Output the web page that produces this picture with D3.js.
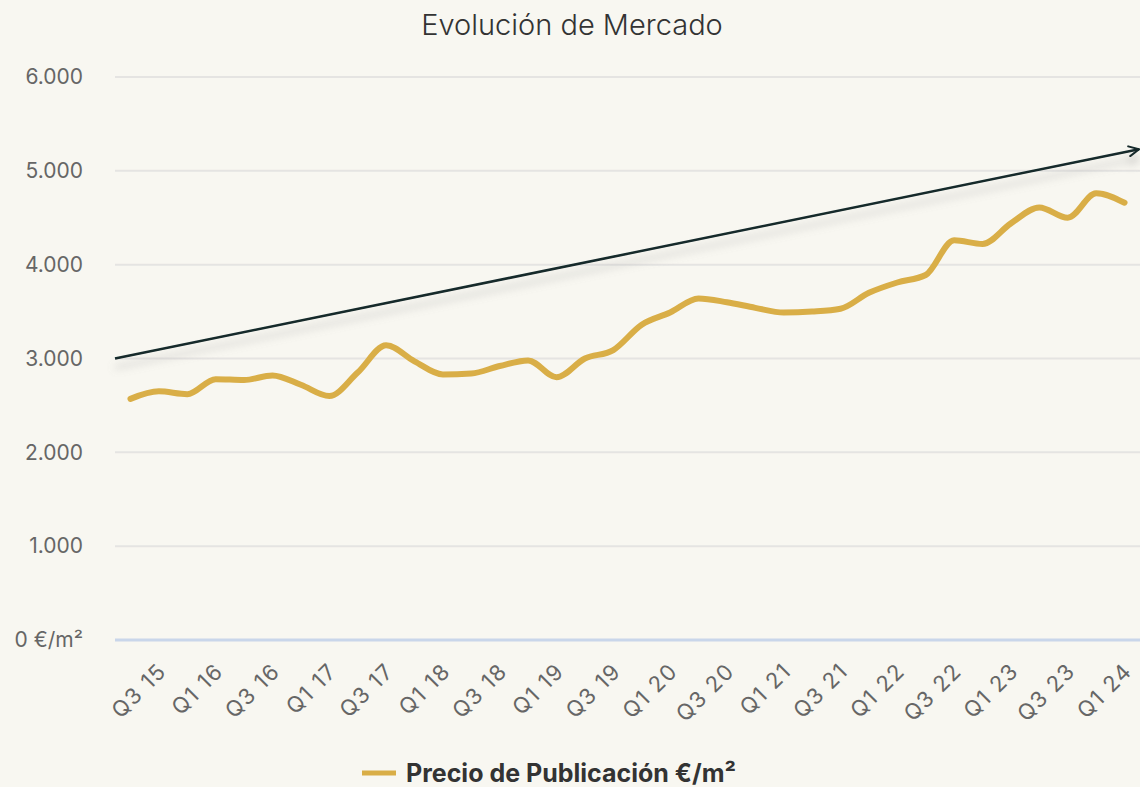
<!DOCTYPE html>
<html>
<head>
<meta charset="utf-8">
<script src="https://cdn.jsdelivr.net/npm/d3@7"></script>
<style>
  body { margin: 0; background: #f8f7f1; }
  svg { display: block; font-family: Inter, "Open Sans", sans-serif; }
</style>
</head>
<body>
<div id="chart"></div>
<script>
// quarters, Q2 15 .. Q1 24 (only every other one gets a label)
const quarters = [
  "Q2 15","Q3 15","Q4 15","Q1 16","Q2 16","Q3 16","Q4 16","Q1 17","Q2 17","Q3 17",
  "Q4 17","Q1 18","Q2 18","Q3 18","Q4 18","Q1 19","Q2 19","Q3 19","Q4 19","Q1 20",
  "Q2 20","Q3 20","Q4 20","Q1 21","Q2 21","Q3 21","Q4 21","Q1 22","Q2 22","Q3 22",
  "Q4 22","Q1 23","Q2 23","Q3 23","Q4 23","Q1 24"
];
const precio = [
  2570, 2650, 2620, 2780, 2770, 2820, 2720, 2600, 2850, 3140,
  2970, 2830, 2840, 2920, 2980, 2800, 3000, 3090, 3360, 3490,
  3640, 3600, 3540, 3490, 3500, 3530, 3700, 3810, 3890, 4260,
  4220, 4440, 4610, 4500, 4760, 4660
];
const yTicks = [0, 1000, 2000, 3000, 4000, 5000, 6000];
// trend arrow: value at left edge and right edge of the plot
const trendValues = [3000, 5230];

const W = 1140, H = 787;
var margin = {top: 77, right: 0, bottom: 147, left: 115};
var plotW = W - margin.left - margin.right,
    plotH = H - margin.top - margin.bottom;

var svg = d3.select("#chart").append("svg")
    .attr("width", W)
    .attr("height", H);

var defs = svg.append("defs");
var shadow = defs.append("filter").attr("id", "trendShadow")
    .attr("x", "-5%").attr("y", "-50%").attr("width", "110%").attr("height", "300%");
shadow.append("feDropShadow")
    .attr("dx", 0).attr("dy", 9).attr("stdDeviation", 4)
    .attr("flood-color", "#8a8a8a").attr("flood-opacity", 0.45);

defs.append("marker")
    .attr("id", "arrowHead")
    .attr("viewBox", "0 0 12 12")
    .attr("refX", 11).attr("refY", 6)
    .attr("markerWidth", 12).attr("markerHeight", 12)
    .attr("markerUnits", "userSpaceOnUse")
    .attr("orient", "auto")
  .append("path")
    .attr("d", "M1,1 L11,6 L1,11")
    .attr("fill", "none")
    .attr("stroke", "#13292b")
    .attr("stroke-width", 2)
    .attr("stroke-linecap", "round");

var g = svg.append("g")
    .attr("transform", "translate(" + margin.left + "," + margin.top + ")");

var x = d3.scalePoint().domain(quarters).range([0, plotW]).padding(0.545);
var y = d3.scaleLinear().domain([0, 6000]).range([plotH, 0]);

// title
svg.append("text")
    .attr("x", 572).attr("y", 35)
    .attr("text-anchor", "middle")
    .style("font-size", "29px")
    .style("font-weight", 300)
    .style("fill", "#333")
    .text("Evolución de Mercado");

// grid lines
g.selectAll(".grid")
    .data(yTicks)
  .enter().append("line")
    .attr("class", "grid")
    .attr("x1", 0).attr("x2", plotW)
    .attr("y1", d => y(d)).attr("y2", d => y(d))
    .attr("stroke", d => d === 0 ? "#c9d6ea" : "#e5e4e2")
    .attr("stroke-width", d => d === 0 ? 3 : 2);

// y axis labels
var fmt = d => d === 0 ? "0 €/m²" : d3.format(",")(d).replace(/,/g, ".");
var yAxis = d3.axisLeft(y).tickValues(yTicks).tickSize(0).tickPadding(32).tickFormat(fmt);
var yg = g.append("g").call(yAxis);
yg.select(".domain").remove();
yg.selectAll("text")
    .style("font-size", "21px")
    .style("font-family", "Inter, sans-serif")
    .style("fill", "#666");

// x axis labels, every other quarter
var xAxis = d3.axisBottom(x)
    .tickValues(quarters.filter((d, i) => i % 2 === 1))
    .tickSize(0);
var xg = g.append("g")
    .attr("transform", "translate(0," + plotH + ")")
    .call(xAxis);
xg.select(".domain").remove();
xg.selectAll("text")
    .attr("transform", "translate(3,27) rotate(-45)")
    .attr("dy", "0.35em")
    .attr("y", 0)
    .style("text-anchor", "end")
    .style("font-size", "22px")
    .style("letter-spacing", "1.5px")
    .style("font-family", "Inter, sans-serif")
    .style("fill", "#666");

// trend arrow
g.append("line")
    .attr("x1", 0).attr("y1", y(trendValues[0]))
    .attr("x2", plotW - 1).attr("y2", y(trendValues[1]))
    .attr("stroke", "#13292b")
    .attr("stroke-width", 2.5)
    .attr("filter", "url(#trendShadow)")
    .attr("marker-end", "url(#arrowHead)");

// price line
var line = d3.line()
    .x((d, i) => x(quarters[i]))
    .y(d => y(d))
    .curve(d3.curveMonotoneX);

g.append("path")
    .datum(precio)
    .attr("d", line)
    .attr("fill", "none")
    .attr("stroke", "#d9ae47")
    .attr("stroke-width", 6)
    .attr("stroke-linecap", "round")
    .attr("stroke-linejoin", "round");

// legend
var legend = svg.append("g").attr("transform", "translate(362,773)");
legend.append("line")
    .attr("x1", 0).attr("x2", 34)
    .attr("stroke", "#d9ae47")
    .attr("stroke-width", 5);
legend.append("text")
    .attr("x", 44).attr("y", 9)
    .style("font-size", "25px")
    .style("font-weight", "bold")
    .style("fill", "#333")
    .text("Precio de Publicación €/m²");
</script>
</body>
</html>
